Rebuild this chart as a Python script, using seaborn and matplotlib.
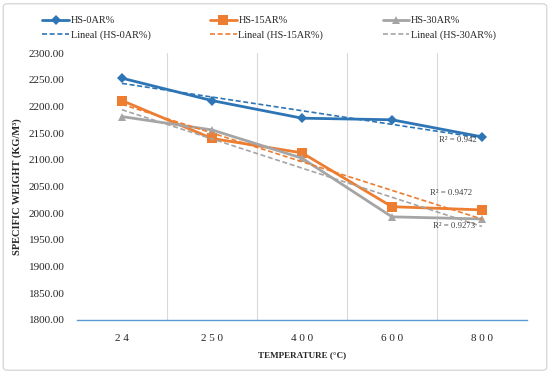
import numpy as np
import pandas as pd
import matplotlib
matplotlib.use("Agg")
import matplotlib.pyplot as plt
import seaborn as sns
from matplotlib.patches import FancyBboxPatch

# data
temps = ["24", "250", "400", "600", "800"]
hs_0 = [2253, 2211, 2178, 2175, 2143]
hs_15 = [2211, 2140, 2113, 2012, 2006]
hs_30 = [2181, 2156, 2103, 1993, 1989]
series_names = ["HS-0AR%", "HS-15AR%", "HS-30AR%"]
r2_labels = ["R² = 0.942", "R² = 0.9472", "R² = 0.9273"]

colors = ["#2E75B6", "#ED7D31", "#A5A5A5"]
markers = ["D", "s", "^"]
msizes = [5, 6.5, 6]

sns.set_style("white")
plt.rcParams["font.family"] = ["Liberation Serif", "DejaVu Serif"]

rows = []
for name, vals in zip(series_names, [hs_0, hs_15, hs_30]):
    for i, v in enumerate(vals):
        rows.append({"pos": i, "temp": temps[i], "series": name, "value": v})
df = pd.DataFrame(rows)

fig = plt.figure(figsize=(5.5, 3.74), dpi=100)
ax = fig.add_axes([0.14, 0.145, 0.818, 0.713])

# frame around the whole chart
fig.patches.append(FancyBboxPatch((0.006, 0.01), 0.988, 0.98,
                                  boxstyle="round,pad=0,rounding_size=0.008",
                                  transform=fig.transFigure, fill=False,
                                  edgecolor="#D9D9D9", lw=1))

sns.lineplot(data=df, x="pos", y="value", hue="series", style="series",
             palette=colors, markers=markers, dashes=False, lw=2,
             markersize=6, markeredgewidth=0, ax=ax, legend=False)
for line, ms in zip(ax.lines, msizes):
    line.set_markersize(ms)

handles = []
for k, name in enumerate(series_names):
    h, = ax.plot([], [], color=colors[k], marker=markers[k], lw=2,
                 markersize=msizes[k], markeredgewidth=0, label=name)
    handles.append(h)

# linear trendlines (excel style, x = 1..5)
x = df["pos"].unique() + 1
trend_handles = []
for k, name in enumerate(series_names):
    y = df.loc[df["series"] == name, "value"].values
    m, b = np.polyfit(x, y, 1)
    t, = ax.plot(x - 1, m * x + b, color=colors[k], ls=(0, (3, 1.6)), lw=1.2,
                 label="Lineal (" + name + ")")
    trend_handles.append(t)

ax.text(3.52, 2138, r2_labels[0], fontsize=6.3, color="#404040", va="center")
ax.text(3.42, 2038, r2_labels[1], fontsize=6.3, color="#404040", va="center")
ax.text(3.46, 1976, r2_labels[2], fontsize=6.3, color="#404040", va="center")

ax.set_xlim(-0.5, 4.5)
ax.set_ylim(1800, 2300)
ax.set_yticks(np.arange(1800, 2301, 50))
ax.set_yticklabels([f"{v:.2f}" for v in np.arange(1800, 2301, 50)], fontsize=8)
ax.set_xticks(range(len(temps)))
ax.set_xticklabels([" ".join(t) for t in temps], fontsize=8)
ax.tick_params(length=0, pad=10)
ax.tick_params(axis="y", pad=9)

for b in [0.5, 1.5, 2.5, 3.5]:
    ax.axvline(b, color="#D9D9D9", lw=0.8, zorder=0)

for s in ["top", "right", "left"]:
    ax.spines[s].set_visible(False)
ax.spines["bottom"].set_color("#5B9BD5")
ax.spines["bottom"].set_linewidth(1)

ax.set_xlabel("TEMPERATURE (°C)", fontsize=6.5, fontweight="bold", labelpad=6)
ax.set_ylabel("SPECIFIC WEIGHT (KG/M³)", fontsize=7.5, fontweight="bold", labelpad=5)

leg = fig.legend(handles=[handles[0], trend_handles[0], handles[1], trend_handles[1],
                          handles[2], trend_handles[2]],
                 ncol=3, loc="upper left", bbox_to_anchor=(0.06, 0.982),
                 frameon=False, fontsize=7.4, handlelength=2.6, handletextpad=0.15,
                 columnspacing=5.8, labelspacing=0.5)

fig.savefig("out.png", dpi=100)
